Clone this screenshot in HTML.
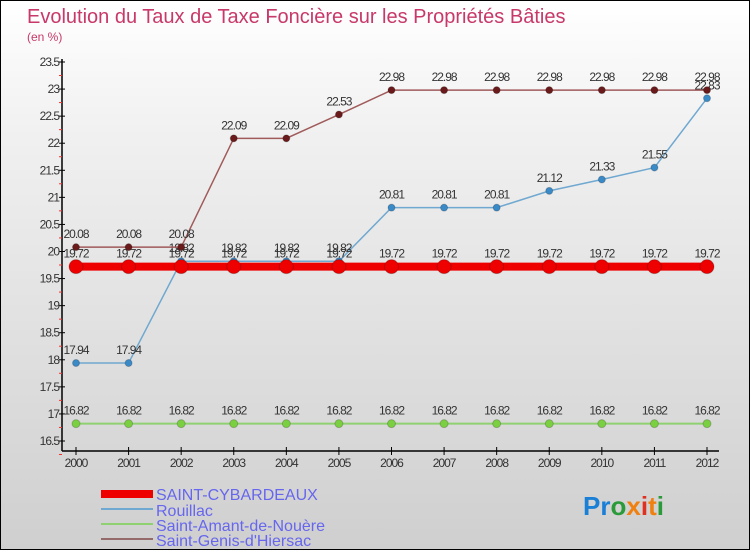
<!DOCTYPE html>
<html><head><meta charset="utf-8"><style>
body{margin:0}
#c{width:750px;height:550px;position:relative;box-sizing:border-box;border:1px solid #000;background:linear-gradient(#ffffff,#f0f0f0 25%,#cfcfcf);font-family:"Liberation Sans",sans-serif;overflow:hidden}
svg{position:absolute;left:0;top:0}
</style></head><body>
<div id="c">
<svg id="s" width="750" height="550">
<text x="26" y="22" font-size="20" fill="#c8386a">Evolution du Taux de Taxe Foncière sur les Propriétés Bâties</text>
<text x="26" y="40" font-size="12" fill="#c8386a">(en %)</text>
<g id="axes"></g><g id="series"></g>
<g>
<rect x="100" y="489" width="52" height="8" fill="#e00"/>
<text x="155" y="499" font-size="16" fill="#6666ee">SAINT-CYBARDEAUX</text>
<line x1="100" x2="152" y1="508" y2="508" stroke="#6fa8d0" stroke-width="2"/>
<text x="155" y="515" font-size="16" fill="#6666ee">Rouillac</text>
<line x1="100" x2="152" y1="523" y2="523" stroke="#8fd070" stroke-width="2"/>
<text x="155" y="530" font-size="16" fill="#6666ee">Saint-Amant-de-Nouère</text>
<line x1="100" x2="152" y1="538" y2="538" stroke="#946a6a" stroke-width="2"/>
<text x="155" y="545" font-size="16" fill="#6666ee">Saint-Genis-d'Hiersac</text>
</g>
<text x="582" y="514" font-size="26" font-weight="bold"><tspan fill="#1a7fd6">Pr</tspan><tspan fill="#2a9a3a">o</tspan><tspan fill="#f08010">x</tspan><tspan fill="#e03020">i</tspan><tspan fill="#f08010">t</tspan><tspan fill="#2a9a3a">i</tspan></text>
</svg></div>
<script>
const years=[2000,2001,2002,2003,2004,2005,2006,2007,2008,2009,2010,2011,2012];
const cyb=[19.72,19.72,19.72,19.72,19.72,19.72,19.72,19.72,19.72,19.72,19.72,19.72,19.72];
const rou=[17.94,17.94,19.82,19.82,19.82,19.82,20.81,20.81,20.81,21.12,21.33,21.55,22.83];
const ama=[16.82,16.82,16.82,16.82,16.82,16.82,16.82,16.82,16.82,16.82,16.82,16.82,16.82];
const gen=[20.08,20.08,20.08,22.09,22.09,22.53,22.98,22.98,22.98,22.98,22.98,22.98,22.98];
const yTicks=[16.5,17,17.5,18,18.5,19,19.5,20,20.5,21,21.5,22,22.5,23,23.5];
const NS="http://www.w3.org/2000/svg";
const xs=i=>75+i*(706-75)/(years.length-1);
const ys=v=>440-(v-16.5)*(379/7);
function mk(t,a,p){const e=document.createElementNS(NS,t);for(const k in a)e.setAttribute(k,a[k]);p.appendChild(e);return e;}
const ax=document.getElementById('axes');
mk('line',{x1:61,x2:61,y1:58,y2:450,stroke:'#000','stroke-width':1.5},ax);
mk('line',{x1:61,x2:718,y1:450,y2:450,stroke:'#000','stroke-width':1.5},ax);
yTicks.forEach(v=>{const y=ys(v);
 mk('line',{x1:58,x2:64,y1:y,y2:y,stroke:'#000'},ax);
 mk('line',{x1:58,x2:61,y1:y+13.5,y2:y+13.5,stroke:'#e33'},ax);
 const t=mk('text',{x:58,y:y+4,'font-size':12,'text-anchor':'end',fill:'#333','letter-spacing':'-1'},ax);t.textContent=v;
 
 });
years.forEach((yr,i)=>{const x=xs(i);
 mk('line',{x1:x,x2:x,y1:446,y2:454,stroke:'#000'},ax);
 const t=mk('text',{x:x,y:466,'font-size':12,'text-anchor':'middle',fill:'#333','letter-spacing':'-1'},ax);t.textContent=yr;
 
 });
const sg=document.getElementById('series');
function draw(vals,col,w,r,dot,name){
 const g=mk('g',{},sg);
 
 
 mk('polyline',{points:vals.map((v,i)=>xs(i)+','+ys(v)).join(' '),fill:'none',stroke:col,'stroke-width':w},g);
 vals.forEach((v,i)=>{const c=mk('circle',{cx:xs(i),cy:ys(v),r:r,fill:dot,stroke:'#0003'},g);
  
  
  const t=mk('text',{x:xs(i),y:ys(v)-9,'font-size':12,'text-anchor':'middle',fill:'#333','letter-spacing':'-1'},g);t.textContent=String(v).replace('.',',').replace(',','.');});
}
draw(ama,'#8fd070',2,4,'#7ad040','series-saint-amant');
draw(rou,'#6fa8d0',1.5,3.5,'#3a8ac8','series-rouillac');
draw(gen,'#a05a5a',1.5,3.5,'#6a1a1a','series-saint-genis');
draw(cyb,'#e00',8,7,'#e00','series-saint-cybardeaux');
</script>
</body></html>
